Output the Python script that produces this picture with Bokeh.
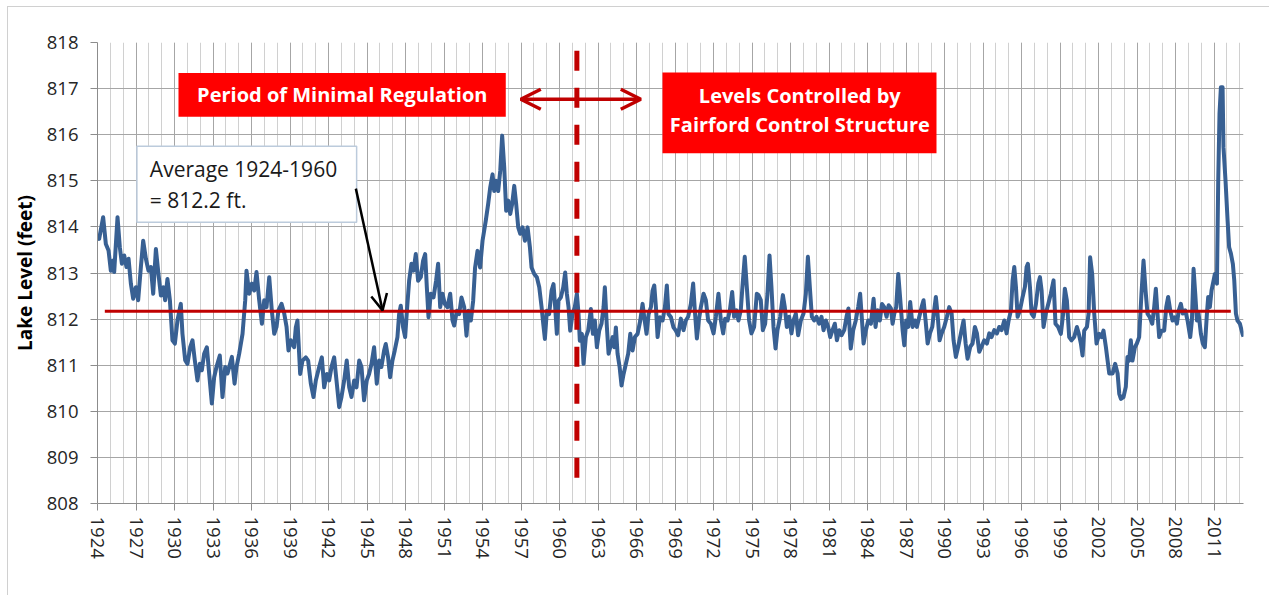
from bokeh.plotting import figure
from bokeh.models import FixedTicker, BoxAnnotation, Label, Arrow, OpenHead
from bokeh.embed import file_html
from bokeh.resources import INLINE

# ---- data: (year, lake level in feet) ----
levels_1924_1939 = [
    (1924.00, 813.80), (1924.13, 813.74), (1924.44, 814.21), (1924.65, 813.63), (1924.86, 813.49),
    (1925.04, 813.05), (1925.22, 813.27), (1925.30, 813.02), (1925.56, 814.21), (1925.74, 813.56),
    (1925.90, 813.20), (1926.08, 813.38), (1926.26, 813.13), (1926.42, 813.31), (1926.60, 812.77),
    (1926.78, 812.44), (1926.99, 812.69), (1927.17, 812.41), (1927.38, 813.13), (1927.56, 813.70),
    (1927.77, 813.31), (1927.97, 813.05), (1928.16, 813.13), (1928.34, 812.55), (1928.55, 813.52),
    (1928.75, 812.98), (1928.94, 812.51), (1929.14, 812.69), (1929.27, 812.41), (1929.45, 812.87),
    (1929.64, 812.41), (1929.84, 811.54), (1930.03, 811.47), (1930.23, 811.97), (1930.49, 812.33),
    (1930.62, 811.68), (1930.83, 811.11), (1931.01, 811.03), (1931.22, 811.39), (1931.40, 811.54),
    (1931.58, 811.11), (1931.79, 810.67), (1931.97, 811.03), (1932.13, 810.89), (1932.31, 811.25),
    (1932.52, 811.39), (1932.70, 810.82), (1932.91, 810.17), (1933.09, 810.74), (1933.27, 810.96),
    (1933.53, 811.21), (1933.74, 810.31), (1933.95, 810.96), (1934.13, 810.82), (1934.47, 811.18),
    (1934.68, 810.60), (1934.83, 810.96), (1935.04, 811.25), (1935.30, 811.68), (1935.51, 812.41),
    (1935.61, 813.05), (1935.82, 812.55), (1936.03, 812.77), (1936.21, 812.62), (1936.39, 813.02),
    (1936.60, 812.41), (1936.81, 811.90), (1936.99, 812.41), (1937.17, 812.26), (1937.38, 812.91),
    (1937.58, 812.19), (1937.77, 811.68), (1937.95, 811.83), (1938.10, 812.19), (1938.34, 812.33),
    (1938.55, 812.12), (1938.73, 811.83), (1938.88, 811.32), (1939.06, 811.54), (1939.32, 811.39),
]
levels_1939_1954 = [
    (1939.45, 811.82), (1939.58, 811.97), (1939.79, 810.81), (1939.97, 811.10), (1940.23, 811.17),
    (1940.41, 811.10), (1940.62, 810.60), (1940.83, 810.31), (1941.01, 810.67), (1941.27, 810.96),
    (1941.48, 811.17), (1941.66, 810.52), (1941.87, 810.81), (1942.05, 810.67), (1942.23, 810.96),
    (1942.44, 811.17), (1942.62, 810.67), (1942.83, 810.09), (1943.01, 810.31), (1943.22, 810.67),
    (1943.42, 811.10), (1943.61, 810.52), (1943.79, 810.31), (1944.00, 810.67), (1944.18, 810.52),
    (1944.39, 811.10), (1944.57, 810.96), (1944.77, 810.24), (1944.98, 810.67), (1945.16, 810.81),
    (1945.35, 811.03), (1945.55, 811.39), (1945.76, 810.60), (1945.94, 811.10), (1946.12, 810.96),
    (1946.33, 811.32), (1946.46, 811.46), (1946.64, 811.17), (1946.80, 810.74), (1946.98, 811.10),
    (1947.16, 811.32), (1947.37, 811.61), (1947.50, 812.11), (1947.63, 812.29), (1947.81, 811.82),
    (1947.97, 811.61), (1948.10, 812.15), (1948.28, 812.83), (1948.46, 813.20), (1948.62, 813.05),
    (1948.80, 813.41), (1948.98, 812.83), (1949.19, 812.91), (1949.37, 813.27), (1949.53, 813.41),
    (1949.66, 812.69), (1949.79, 812.04), (1949.97, 812.55), (1950.18, 812.47), (1950.38, 812.83),
    (1950.54, 813.20), (1950.70, 812.26), (1950.88, 812.55), (1951.06, 812.33), (1951.27, 812.26),
    (1951.48, 812.55), (1951.66, 811.97), (1951.79, 811.86), (1952.00, 812.18), (1952.18, 812.11),
    (1952.36, 812.47), (1952.57, 812.26), (1952.75, 811.64), (1952.90, 812.18), (1953.09, 811.97),
    (1953.27, 812.40), (1953.42, 813.12), (1953.61, 813.48), (1953.81, 813.12), (1954.00, 813.70),
    (1954.25, 814.13),
]
levels_1954_1969 = [
    (1954.44, 814.50), (1954.60, 814.86), (1954.78, 815.14), (1954.91, 814.78), (1955.04, 815.00),
    (1955.22, 814.78), (1955.38, 815.22), (1955.53, 815.98), (1955.69, 815.29), (1955.84, 814.35),
    (1956.00, 814.57), (1956.16, 814.28), (1956.31, 814.50), (1956.47, 814.89), (1956.62, 814.50),
    (1956.78, 813.99), (1956.94, 813.85), (1957.12, 813.99), (1957.30, 813.70), (1957.51, 813.99),
    (1957.69, 813.56), (1957.82, 813.12), (1958.03, 812.98), (1958.23, 812.91), (1958.42, 812.69),
    (1958.60, 812.26), (1958.73, 811.90), (1958.86, 811.57), (1959.01, 812.18), (1959.19, 812.11),
    (1959.38, 812.62), (1959.53, 812.76), (1959.66, 812.26), (1959.79, 811.68), (1959.92, 812.40),
    (1960.10, 812.47), (1960.29, 812.69), (1960.44, 813.01), (1960.57, 812.55), (1960.70, 812.26),
    (1960.83, 811.75), (1961.01, 812.11), (1961.19, 812.26), (1961.35, 812.55), (1961.48, 812.11),
    (1961.58, 811.53), (1961.74, 811.68), (1961.87, 811.03), (1962.05, 811.61), (1962.23, 811.75),
    (1962.44, 812.22), (1962.60, 811.68), (1962.75, 811.97), (1962.91, 811.39), (1963.09, 811.75),
    (1963.27, 811.90), (1963.43, 812.26), (1963.53, 812.69), (1963.69, 811.82), (1963.82, 811.25),
    (1963.95, 811.39), (1964.13, 811.61), (1964.26, 811.39), (1964.39, 811.82), (1964.52, 811.25),
    (1964.68, 810.96), (1964.83, 810.56), (1964.99, 810.81), (1965.17, 811.03), (1965.35, 811.25),
    (1965.51, 811.68), (1965.69, 811.32), (1965.87, 811.61), (1966.08, 811.68), (1966.29, 811.97),
    (1966.47, 812.33), (1966.60, 812.04), (1966.78, 811.68), (1966.94, 812.11), (1967.12, 812.26),
    (1967.25, 812.62), (1967.38, 812.73), (1967.51, 812.26), (1967.64, 811.61), (1967.82, 812.04),
    (1968.03, 811.97), (1968.21, 812.26), (1968.36, 812.73), (1968.49, 812.11), (1968.68, 812.04),
    (1968.88, 811.82), (1969.06, 811.75),
]
levels_1969_1983 = [
    (1969.24, 811.65), (1969.45, 812.01), (1969.66, 811.76), (1969.84, 811.97), (1970.02, 812.05),
    (1970.23, 812.33), (1970.41, 812.77), (1970.54, 812.19), (1970.70, 811.58), (1970.85, 811.97),
    (1971.01, 812.26), (1971.22, 812.55), (1971.40, 812.41), (1971.58, 811.97), (1971.79, 811.90),
    (1972.00, 811.69), (1972.18, 812.05), (1972.38, 812.55), (1972.57, 811.97), (1972.75, 811.69),
    (1972.90, 812.01), (1973.09, 811.97), (1973.27, 812.19), (1973.45, 812.59), (1973.60, 812.05),
    (1973.79, 812.19), (1973.94, 811.97), (1974.12, 812.19), (1974.25, 812.70), (1974.43, 813.35),
    (1974.59, 812.70), (1974.77, 811.97), (1974.95, 811.69), (1975.16, 811.83), (1975.37, 812.55),
    (1975.50, 812.52), (1975.68, 812.41), (1975.84, 811.76), (1976.02, 811.90), (1976.20, 812.55),
    (1976.36, 813.38), (1976.51, 812.70), (1976.67, 811.83), (1976.83, 811.36), (1976.98, 811.76),
    (1977.19, 812.05), (1977.40, 812.52), (1977.55, 812.26), (1977.71, 811.83), (1977.89, 812.05),
    (1978.07, 811.69), (1978.23, 811.97), (1978.41, 812.12), (1978.59, 811.65), (1978.80, 811.97),
    (1979.01, 812.12), (1979.19, 812.55), (1979.35, 813.35), (1979.50, 812.70), (1979.66, 812.05),
    (1979.84, 811.97), (1980.02, 812.05), (1980.23, 811.90), (1980.41, 812.05), (1980.57, 811.76),
    (1980.75, 811.97), (1980.93, 811.83), (1981.09, 811.61), (1981.27, 811.76), (1981.45, 811.90),
    (1981.61, 811.54), (1981.79, 811.76), (1981.97, 811.65), (1982.18, 811.76), (1982.36, 812.05),
    (1982.51, 812.23), (1982.69, 811.36), (1982.88, 811.76), (1983.08, 811.97), (1983.27, 812.26),
    (1983.42, 812.55),
]
levels_1983_1998 = [
    (1983.69, 811.47), (1983.87, 811.76), (1984.05, 811.97), (1984.26, 811.90), (1984.47, 812.44),
    (1984.62, 811.83), (1984.78, 812.19), (1984.96, 811.97), (1985.12, 812.33), (1985.30, 812.26),
    (1985.48, 812.05), (1985.64, 812.30), (1985.82, 812.23), (1985.95, 811.90), (1986.08, 812.12),
    (1986.23, 812.26), (1986.39, 812.98), (1986.55, 812.41), (1986.73, 811.76), (1986.86, 811.43),
    (1987.01, 811.97), (1987.17, 811.83), (1987.32, 812.37), (1987.51, 811.83), (1987.69, 811.97),
    (1987.84, 811.83), (1988.03, 812.05), (1988.21, 812.26), (1988.36, 812.41), (1988.52, 811.97),
    (1988.68, 811.47), (1988.86, 811.69), (1989.04, 811.83), (1989.19, 812.19), (1989.32, 812.48),
    (1989.45, 812.12), (1989.61, 811.54), (1989.77, 811.69), (1989.97, 811.83), (1990.18, 812.05),
    (1990.36, 812.26), (1990.55, 812.12), (1990.70, 811.54), (1990.88, 811.18), (1991.06, 811.40),
    (1991.27, 811.69), (1991.48, 811.97), (1991.64, 811.47), (1991.79, 811.14), (1992.00, 811.40),
    (1992.18, 811.47), (1992.36, 811.83), (1992.52, 811.69), (1992.70, 811.29), (1992.88, 811.40),
    (1993.09, 811.54), (1993.30, 811.47), (1993.48, 811.69), (1993.66, 811.61), (1993.87, 811.76),
    (1994.08, 811.69), (1994.26, 811.83), (1994.44, 811.76), (1994.65, 811.97), (1994.83, 811.69),
    (1994.99, 811.97), (1995.17, 812.19), (1995.30, 812.84), (1995.43, 813.13), (1995.56, 812.70),
    (1995.69, 812.05), (1995.87, 812.19), (1996.08, 812.48), (1996.26, 812.70), (1996.39, 813.13),
    (1996.49, 813.20), (1996.65, 812.70), (1996.78, 812.12), (1996.94, 812.05), (1997.12, 812.33),
    (1997.30, 812.77), (1997.43, 812.91), (1997.56, 812.62), (1997.71, 811.83), (1997.89, 812.12),
    (1998.08, 812.33),
]
levels_1998_2013 = [
    (1998.28, 812.55), (1998.49, 812.84), (1998.64, 811.90), (1998.85, 811.83), (1999.06, 811.68),
    (1999.24, 812.12), (1999.37, 812.66), (1999.53, 812.40), (1999.71, 811.61), (1999.89, 811.54),
    (2000.10, 811.61), (2000.31, 811.83), (2000.46, 811.68), (2000.62, 811.47), (2000.75, 811.21),
    (2000.88, 811.75), (2001.09, 811.83), (2001.22, 812.12), (2001.34, 813.34), (2001.50, 812.98),
    (2001.66, 812.12), (2001.84, 811.47), (2002.05, 811.68), (2002.23, 811.61), (2002.38, 811.75),
    (2002.57, 811.39), (2002.70, 811.10), (2002.83, 810.82), (2003.09, 810.82), (2003.29, 811.03),
    (2003.48, 810.82), (2003.61, 810.38), (2003.74, 810.27), (2003.94, 810.31), (2004.12, 810.53),
    (2004.25, 811.18), (2004.38, 811.10), (2004.51, 811.54), (2004.64, 811.10), (2004.83, 811.39),
    (2004.98, 811.47), (2005.16, 811.61), (2005.34, 812.55), (2005.50, 813.27), (2005.66, 812.62),
    (2005.81, 812.12), (2005.99, 812.04), (2006.18, 811.90), (2006.33, 812.26), (2006.46, 812.66),
    (2006.59, 812.12), (2006.72, 811.61), (2006.90, 811.75), (2007.11, 811.75), (2007.27, 812.26),
    (2007.42, 812.48), (2007.58, 812.19), (2007.76, 811.97), (2007.94, 812.04), (2008.10, 811.90),
    (2008.25, 812.19), (2008.41, 812.33), (2008.56, 812.12), (2008.75, 812.19), (2008.93, 811.97),
    (2009.14, 811.61), (2009.27, 811.97), (2009.40, 813.09), (2009.53, 812.55), (2009.66, 811.97),
    (2009.79, 812.12), (2009.97, 811.68), (2010.12, 811.47), (2010.28, 811.39), (2010.44, 812.12),
    (2010.54, 812.48), (2010.67, 812.26), (2010.80, 812.62), (2010.96, 812.84), (2011.06, 812.98),
    (2011.22, 812.77), (2011.32, 815.00), (2011.42, 816.45), (2011.53, 817.03), (2011.66, 817.03),
    (2011.73, 815.73), (2011.89, 815.00), (2012.05, 814.14), (2012.17, 813.56), (2012.31, 813.42),
    (2012.46, 813.20), (2012.57, 812.84), (2012.70, 812.12), (2012.82, 811.97), (2013.01, 811.90),
    (2013.21, 811.68), (2013.29, 811.62),
]

average_level = 812.17          # average 1924-1960
average_span = [1924.57, 2012.30]
control_year = 1961.35          # Fairford control structure
tick_years = list(range(1924, 2012, 3))
grid_years = list(range(1924, 2014))
level_ticks = list(range(808, 819))

series = (levels_1924_1939 + levels_1939_1954 + levels_1954_1969 +
          levels_1969_1983 + levels_1983_1998 + levels_1998_2013)
years = [s[0] for s in series]
levels = [s[1] for s in series]

FONT = "Open Sans"

p = figure(width=1262, height=589, x_range=(1924, 2013.29), y_range=(808, 818),
           output_backend="svg", toolbar_location=None,
           min_border_left=89, min_border_right=27, min_border_top=35, min_border_bottom=93)
p.styles = {"margin-left": "7px", "margin-top": "6px",
            "border-left": "1px solid #d0d0d0", "border-top": "1px solid #d0d0d0"}
p.outline_line_color = None
p.background_fill_color = "white"
p.border_fill_color = "white"

# grids
p.xgrid.ticker = FixedTicker(ticks=tick_years, minor_ticks=grid_years)
p.xgrid.grid_line_color = "#a6a6a6"
p.xgrid.minor_grid_line_color = "#d0d0d0"
p.ygrid.ticker = FixedTicker(ticks=level_ticks)
p.ygrid.grid_line_color = "#a6a6a6"

# axes
p.xaxis.ticker = FixedTicker(ticks=tick_years, minor_ticks=grid_years)
p.yaxis.ticker = FixedTicker(ticks=level_ticks)
for ax in (p.xaxis[0], p.yaxis[0]):
    ax.axis_line_color = "#8c8c8c"
    ax.major_tick_line_color = "#8c8c8c"
    ax.major_tick_out = 7
    ax.major_tick_in = 0
    ax.minor_tick_out = 0
    ax.minor_tick_in = 0
    ax.major_label_text_font = FONT
    ax.major_label_text_font_size = "18.5px"
    ax.major_label_text_color = "#262626"
p.xaxis.major_label_orientation = "vertical"
p.xaxis.major_label_standoff = 6
p.yaxis.major_label_standoff = 12
p.yaxis.axis_label = "Lake Level (feet)"
p.yaxis.axis_label_text_font = FONT
p.yaxis.axis_label_text_font_style = "bold"
p.yaxis.axis_label_text_font_size = "19px"
p.yaxis.axis_label_text_color = "black"
p.yaxis.axis_label_standoff = 6

# series and reference lines
p.line(years, levels, line_color="#386093", line_width=4, line_join="round")
p.line(average_span, [average_level, average_level], line_color="#C00000", line_width=3)
p.line([control_year, control_year], [817.82, 808.23], line_color="#C00000",
       line_width=5, line_dash="20 17")

# red title boxes
p.add_layout(BoxAnnotation(left=1930.31, right=1955.81, top=817.34, bottom=816.39,
                           fill_color="#FF0000", fill_alpha=1, line_color=None))
p.add_layout(BoxAnnotation(left=1968.02, right=1989.37, top=817.35, bottom=815.60,
                           fill_color="#FF0000", fill_alpha=1, line_color=None))
p.add_layout(Label(x=1943.07, y=816.87, text="Period of Minimal Regulation",
                   text_align="center", text_baseline="middle", text_color="white",
                   text_font=FONT, text_font_style="bold", text_font_size="20px"))
p.add_layout(Label(x=1978.72, y=816.85, text="Levels Controlled by",
                   text_align="center", text_baseline="middle", text_color="white",
                   text_font=FONT, text_font_style="bold", text_font_size="20px"))
p.add_layout(Label(x=1978.72, y=816.22, text="Fairford Control Structure",
                   text_align="center", text_baseline="middle", text_color="white",
                   text_font=FONT, text_font_style="bold", text_font_size="20px"))

# double arrow
p.add_layout(Arrow(x_start=1956.98, y_start=816.77, x_end=1966.33, y_end=816.77,
                   start=OpenHead(size=20, line_color="#C00000", line_width=3.5),
                   end=OpenHead(size=20, line_color="#C00000", line_width=3.5),
                   line_color="#C00000", line_width=3.5))

# average callout
p.add_layout(BoxAnnotation(left=1927.07, right=1944.19, top=815.75, bottom=814.10,
                           fill_color="white", fill_alpha=1, line_color="#bccbdc",
                           line_alpha=1, line_width=1.5))
p.add_layout(Label(x=1928.08, y=815.26, text="Average 1924-1960",
                   text_align="left", text_baseline="middle", text_color="#1a1a1a",
                   text_font=FONT, text_font_size="21px"))
p.add_layout(Label(x=1928.08, y=814.59, text="= 812.2 ft.",
                   text_align="left", text_baseline="middle", text_color="#1a1a1a",
                   text_font=FONT, text_font_size="21px"))
p.add_layout(Arrow(x_start=1944.13, y_start=814.83, x_end=1946.21, y_end=812.19,
                   end=OpenHead(size=16, line_color="black", line_width=2.5),
                   line_color="black", line_width=2.5))

open("out.html", "w").write(file_html(p, INLINE))
